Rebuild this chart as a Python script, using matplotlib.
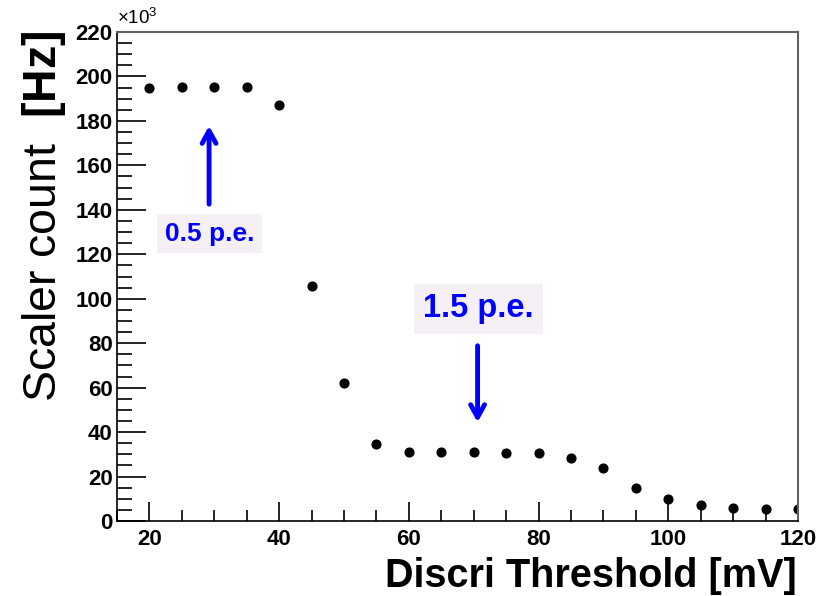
import numpy as np
import matplotlib.pyplot as plt
from matplotlib.ticker import MultipleLocator

plt.rcParams['font.family'] = ['Liberation Sans', 'DejaVu Sans']
plt.rcParams['mathtext.fontset'] = 'custom'
plt.rcParams['mathtext.bf'] = 'Liberation Sans:bold'
plt.rcParams['mathtext.rm'] = 'Liberation Sans'

# Discriminator threshold scan (counts in units of 10^3 Hz)
threshold = [20, 25, 30, 35, 40, 45, 50, 55, 60, 65, 70,
             75, 80, 85, 90, 95, 100, 105, 110, 115, 120]
counts = [195.0, 195.4, 195.4, 195.4, 187.3, 105.9, 61.9, 34.5, 31.2, 31.2, 31.2,
          30.6, 30.6, 28.5, 24.0, 14.7, 9.9, 7.0, 6.0, 5.5, 5.4]

fig = plt.figure(figsize=(8.32, 5.96), dpi=100)
ax = fig.add_axes([0.1406, 0.1258, 0.8185, 0.8205])

ax.plot(threshold, counts, 'o', color='black', markersize=6.3)

ax.set_xlim(15, 120)
ax.set_ylim(0, 220)
ax.xaxis.set_major_locator(MultipleLocator(20))
ax.xaxis.set_minor_locator(MultipleLocator(5))
ax.yaxis.set_major_locator(MultipleLocator(20))
ax.yaxis.set_minor_locator(MultipleLocator(5))
ax.tick_params(which='both', direction='in', top=False, right=False, color='black')
ax.tick_params(axis='y', which='major', length=21, width=1.2, pad=3)
ax.tick_params(axis='y', which='minor', length=11, width=1.2)
ax.tick_params(axis='x', which='major', length=14, width=1.2, pad=6)
ax.tick_params(axis='x', which='minor', length=8, width=1.2)
for lab in ax.get_xticklabels() + ax.get_yticklabels():
    lab.set_fontweight('bold')
    lab.set_fontsize(16)
for side in ['top', 'right']:
    ax.spines[side].set_color('#606060')
    ax.spines[side].set_linewidth(1.5)
for side in ['left', 'bottom']:
    ax.spines[side].set_linewidth(1.2)

ax.text(0.0, 1.008, r'$\times$10$^3$', transform=ax.transAxes, fontsize=13.5,
        ha='left', va='bottom')

fig.text(797 / 832, 1 - 587 / 596, 'Discri Threshold [mV]', fontsize=28.5,
         fontweight='bold', ha='right', va='baseline')
fig.text(20 / 832, 1 - 30 / 596, r'Scaler count  $\mathbf{[Hz]}$', fontsize=33.5,
         rotation=90, ha='left', va='top')

# annotations
box = dict(boxstyle='square,pad=0.28', facecolor='#f4f0f6', edgecolor='none')
arrow = dict(arrowstyle='->,head_length=0.9,head_width=0.5', color='blue', lw=3.5)
ax.annotate('', xy=(29.2, 179), xytext=(29.2, 141.3), arrowprops=arrow)
ax.text(29.26, 129.3, '0.5 p.e.', color='blue', fontsize=19, fontweight='bold',
        ha='center', va='center', bbox=box)
ax.annotate('', xy=(70.6, 43.2), xytext=(70.6, 80.1), arrowprops=arrow)
ax.text(70.7, 95.4, '1.5 p.e.', color='blue', fontsize=23.5, fontweight='bold',
        ha='center', va='center', bbox=box)

fig.savefig('out.png', dpi=100)
